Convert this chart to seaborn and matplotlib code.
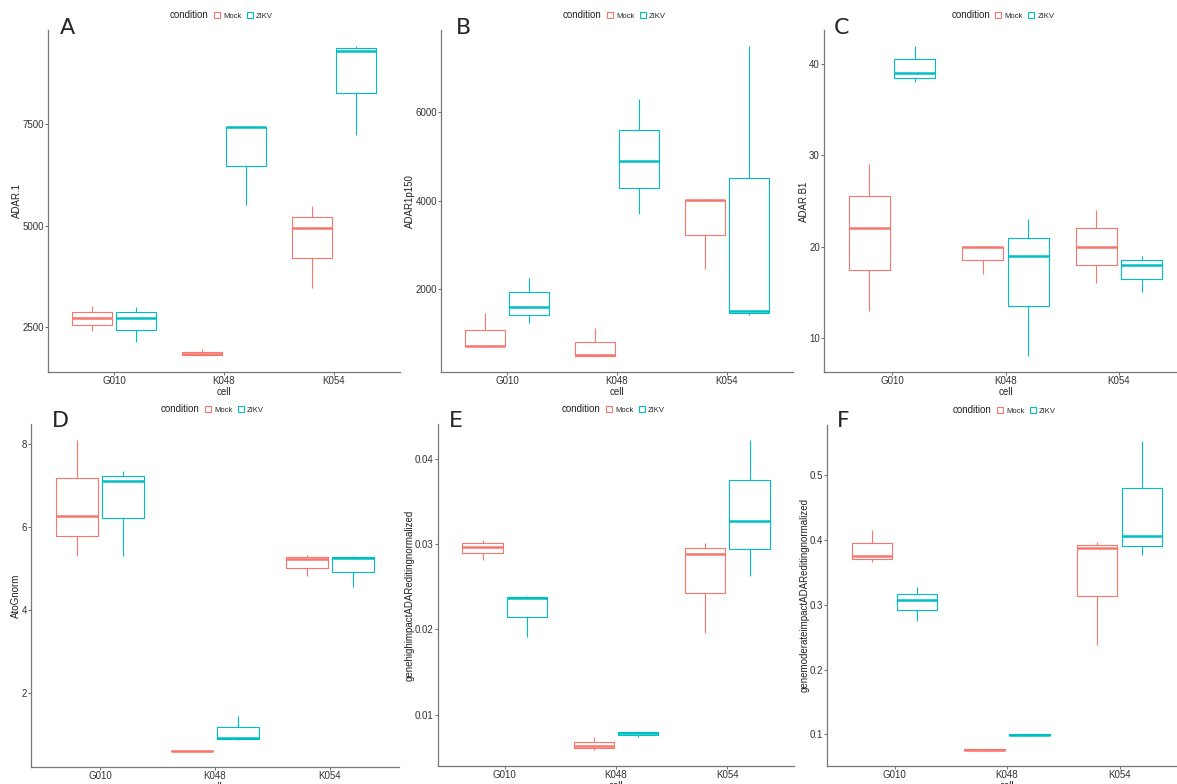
import matplotlib
matplotlib.use("Agg")
import pandas as pd
import matplotlib.pyplot as plt
import seaborn as sns
from matplotlib.patches import Patch

sns.set_style("ticks")
plt.rcParams["font.family"] = ["Liberation Sans", "DejaVu Sans"]

FIG_W, FIG_H = 1177, 784

CELLS = ["G010", "K048", "K054"]
CONDITIONS = ["Mock", "ZIKV"]
PALETTE = {"Mock": "#F8766D", "ZIKV": "#00BFC4"}

# three replicates per cell (G010, K048, K054)
ADAR1_MOCK = [[2400, 2730, 3030], [1780, 1830, 1960], [3460, 4950, 5470]]
ADAR1_ZIKV = [[2130, 2730, 3000], [5500, 7415, 7430], [7220, 9295, 9430]]

P150_MOCK = [[690, 714, 1451], [474, 504, 1120], [2444, 4008, 4030]]
P150_ZIKV = [[1226, 1586, 2256], [3699, 4887, 6293], [1406, 1511, 7504]]

B1_MOCK = [[13, 22, 29], [17, 20, 20], [16, 20, 24]]
B1_ZIKV = [[38, 39, 42], [8, 19, 23], [15, 18, 19]]

ATOG_MOCK = [[5.31, 6.27, 8.11], [0.60, 0.61, 0.62], [4.82, 5.23, 5.33]]
ATOG_ZIKV = [[5.31, 7.12, 7.35], [0.87, 0.92, 1.45], [4.57, 5.26, 5.30]]

HIGH_MOCK = [[0.0282, 0.0297, 0.0305], [0.00578, 0.00625, 0.00734], [0.0196, 0.0289, 0.0302]]
HIGH_ZIKV = [[0.0191, 0.0237, 0.0239], [0.0074, 0.00785, 0.0081], [0.0263, 0.0327, 0.0423]]

MOD_MOCK = [[0.367, 0.376, 0.415], [0.075, 0.0765, 0.077], [0.238, 0.388, 0.397]]
MOD_ZIKV = [[0.2757, 0.307, 0.327], [0.098, 0.0995, 0.1005], [0.377, 0.406, 0.554]]

YTICKS_A = [2500, 5000, 7500]
YTICKS_B = [2000, 4000, 6000]
YTICKS_C = [10, 20, 30, 40]
YTICKS_D = [2, 4, 6, 8]
YTICKS_E = [0.01, 0.02, 0.03, 0.04]
YTICKS_F = [0.1, 0.2, 0.3, 0.4, 0.5]

YLABELS_A = ["2500", "5000", "7500"]
YLABELS_B = ["2000", "4000", "6000"]
YLABELS_C = ["10", "20", "30", "40"]
YLABELS_D = ["2", "4", "6", "8"]
YLABELS_E = ["0.01", "0.02", "0.03", "0.04"]
YLABELS_F = ["0.1", "0.2", "0.3", "0.4", "0.5"]


def build_frame(mock, zikv):
    rows = []
    for cond, groups in zip(CONDITIONS, [mock, zikv]):
        for cell, values in zip(CELLS, groups):
            for v in values:
                rows.append({"cell": cell, "condition": cond, "value": v})
    return pd.DataFrame(rows)


def px_rect(left, top, right, bottom):
    """Axes rectangle from pixel edges (origin top-left)."""
    return [left / FIG_W, 1 - bottom / FIG_H, (right - left) / FIG_W, (bottom - top) / FIG_H]


def draw_panel(fig, rect, letter, letter_xy, ylabel, mock, zikv, yticks, ylabels):
    df = build_frame(mock, zikv)
    ax = fig.add_axes(px_rect(*rect))
    sns.boxplot(data=df, x="cell", y="value", hue="condition",
                order=CELLS, hue_order=CONDITIONS, palette=PALETTE,
                fill=False, width=0.8, gap=0.1, linewidth=0.8,
                medianprops={"linewidth": 1.8}, showcaps=False,
                legend=False, ax=ax)

    lo, hi = df["value"].min(), df["value"].max()
    pad = (hi - lo) * 0.05
    ax.set_ylim(lo - pad, hi + pad)
    ax.set_xlim(-0.6, 2.6)
    ax.set_yticks(yticks, labels=ylabels)

    ax.set_xlabel("cell", fontsize=7, color="#222222", labelpad=0.5)
    ax.set_ylabel(ylabel, fontsize=7, color="#222222", labelpad=0)
    ax.tick_params(axis="both", length=2, width=0.6, color="#555555",
                   labelsize=7, labelcolor="#333333", pad=1)
    sns.despine(ax=ax)
    for side in ["left", "bottom"]:
        ax.spines[side].set_color("#777777")
        ax.spines[side].set_linewidth(0.9)

    # ggplot-style legend on top: "condition  [] Mock  [] ZIKV"
    handles = [Patch(visible=False)]
    handles += [Patch(facecolor="white", edgecolor=PALETTE[c], linewidth=0.8) for c in CONDITIONS]
    axes_h = rect[3] - rect[1]
    leg = ax.legend(handles, ["condition"] + CONDITIONS, ncol=3, loc="center",
                    bbox_to_anchor=(0.48, 1 + 15 / axes_h), frameon=False,
                    fontsize=5.5, handlelength=0.8, handleheight=0.8,
                    handletextpad=0.4, columnspacing=0.7, borderaxespad=0)
    leg.get_texts()[0].set_fontsize(7)
    leg.get_texts()[0].set_color("#222222")

    fig.text(letter_xy[0] / FIG_W, 1 - letter_xy[1] / FIG_H, letter,
             fontsize=16, va="baseline", ha="left", family="DejaVu Sans")
    return ax


def main():
    fig = plt.figure(figsize=(FIG_W / 100, FIG_H / 100), dpi=100)

    panels = [
        ("A", (60, 34), (48, 30, 400, 372), "ADAR.1", ADAR1_MOCK, ADAR1_ZIKV, YTICKS_A, YLABELS_A),
        ("B", (456, 34), (441, 30, 793, 372), "ADAR1p150", P150_MOCK, P150_ZIKV, YTICKS_B, YLABELS_B),
        ("C", (834, 34), (824, 30, 1187, 372), "ADAR.B1", B1_MOCK, B1_ZIKV, YTICKS_C, YLABELS_C),
        ("D", (52, 427), (31, 424, 399, 767), "AtoGnorm", ATOG_MOCK, ATOG_ZIKV, YTICKS_D, YLABELS_D),
        ("E", (449, 427), (438, 424, 794, 766), "genehighimpactADAReditingnormalized",
         HIGH_MOCK, HIGH_ZIKV, YTICKS_E, YLABELS_E),
        ("F", (837, 427), (827, 425, 1187, 766), "genemoderateimpactADAReditingnormalized",
         MOD_MOCK, MOD_ZIKV, YTICKS_F, YLABELS_F),
    ]
    for letter, letter_xy, rect, ylabel, mock, zikv, yticks, ylabels in panels:
        draw_panel(fig, rect, letter, letter_xy, ylabel, mock, zikv, yticks, ylabels)

    fig.savefig("out.png", dpi=100)
    plt.close(fig)


if __name__ == "__main__":
    main()
